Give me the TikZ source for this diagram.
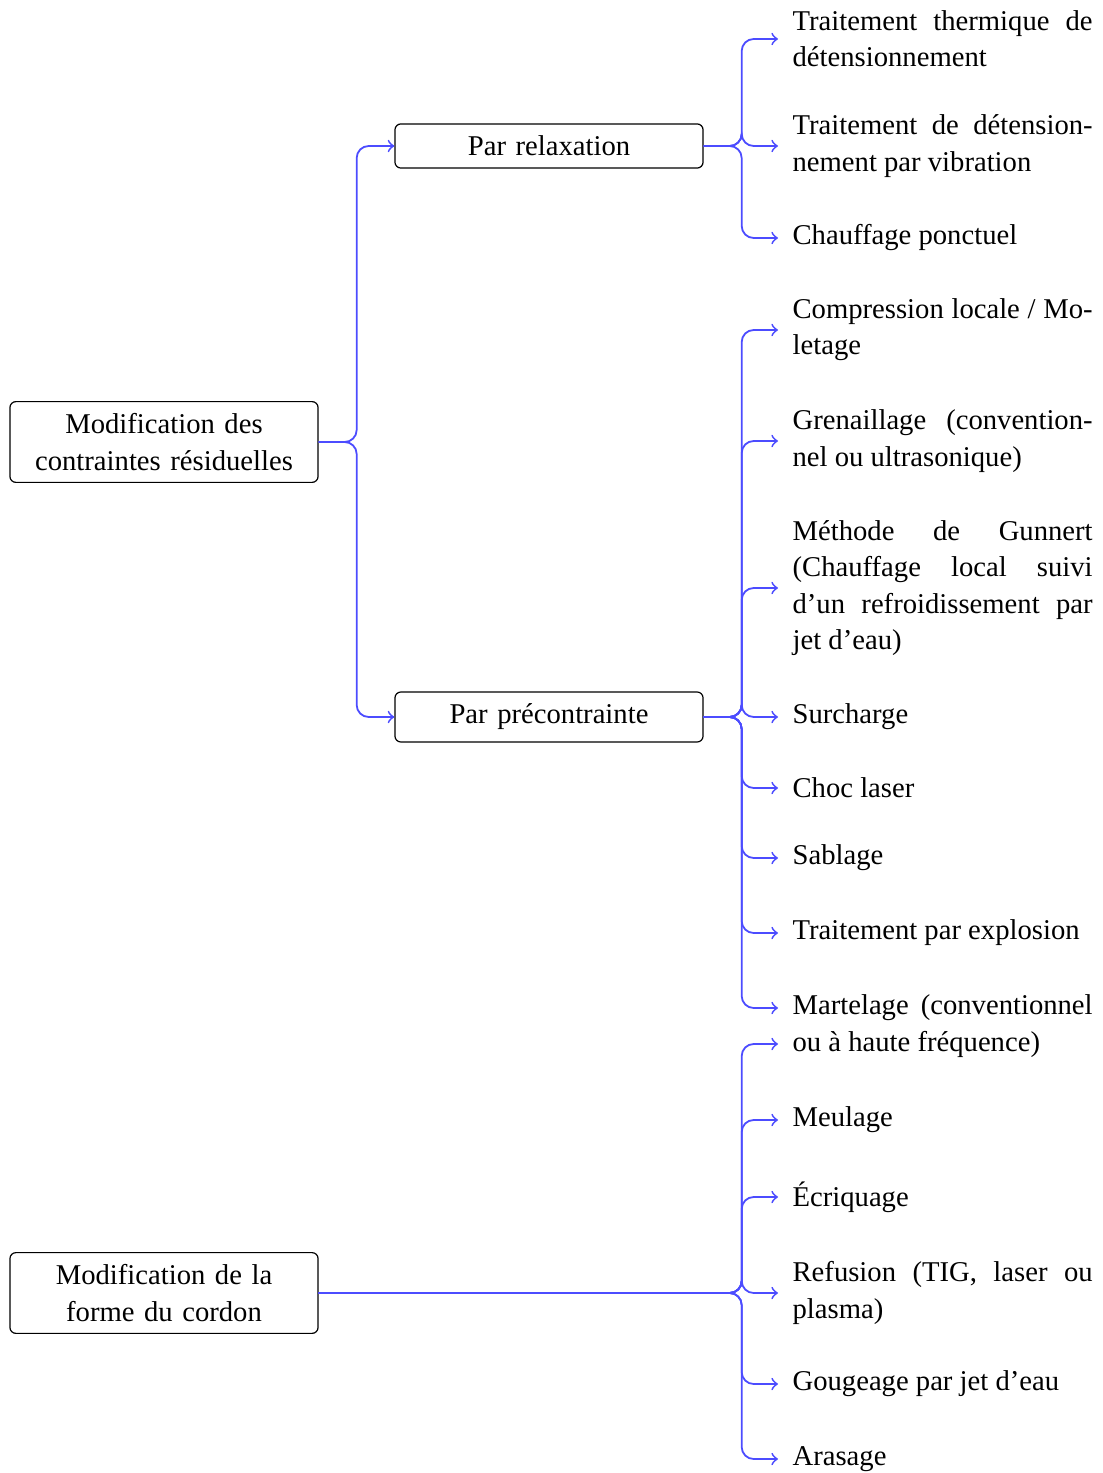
\documentclass[tikz,border=0pt]{standalone}
\usepackage{fontspec}
\setmainfont{Liberation Serif}
\hyphenpenalty=10000
\begin{document}
\begin{tikzpicture}[
	x=0.3333pt,
	y=-0.3333pt,
	font=\fontsize{9.55pt}{12.1pt}\selectfont,
	category/.style={
		rectangle,
		draw=black,
		rounded corners=2pt,
		align=center,
		text width=94.7pt,
		inner sep=4pt
	},
	method/.style={
		anchor=west,
		align=justify,
		text width=100pt,
		inner sep=4.67pt
	},
	branch/.style={
		draw=blue!70,
		semithick,
		rounded corners=4pt,
		->
	},
]
\useasboundingbox (0, 0) rectangle (1102, 1473);

\node[category] (contraintes) at (164, 442) {Modification des \\ contraintes résiduelles};
\node[category] (forme) at (164, 1293) {Modification de la \\ forme du cordon};

\node[category] (relaxation) at (549, 146) {Par relaxation};
\node[category] (precontrainte) at (549, 717) {Par précontrainte};

\node[method] (thermique) at (778, 39) {Traitement thermique de\linebreak détensionnement};
\node[method] (vibration) at (778, 146) {Traitement de détension-\linebreak nement par vibration};
\node[method] (chauffage) at (778, 238) {Chauffage ponctuel};

\node[method] (compression) at (778, 330) {Compression locale / Mo-\linebreak letage};
\node[method] (grenaillage) at (778, 441) {Grenaillage (convention-\linebreak nel ou ultrasonique)};
\node[method] (gunnert) at (778, 588) {Méthode de Gunnert\linebreak (Chauffage local suivi\linebreak d’un refroidissement par\linebreak jet d’eau)};
\node[method] (surcharge) at (778, 717) {Surcharge};
\node[method] (choc) at (778, 788) {Choc laser};
\node[method] (sablage) at (778, 858) {Sablage};
\node[method] (explosion) at (778, 933) {Traitement par explosion};
\node[method] (martelage) at (778, 1026) {Martelage (conventionnel\linebreak ou à haute fréquence)};

\node[method] (meulage) at (778, 1120) {Meulage};
\node[method] (ecriquage) at (778, 1197) {Écriquage};
\node[method] (refusion) at (778, 1293) {Refusion (TIG, laser ou\linebreak plasma)};
\node[method] (gougeage) at (778, 1384) {Gougeage par jet d’eau};
\node[method] (arasage) at (778, 1459) {Arasage};

\foreach \child in {relaxation, precontrainte}
	\draw[branch] (contraintes.east) -- ++(38, 0) |- (\child.west);

\foreach \child in {thermique, vibration, chauffage}
	\draw[branch] (relaxation.east) -- ++(38, 0) |- (\child.west);

\foreach \child in {compression, grenaillage, gunnert, surcharge, choc, sablage, explosion}
	\draw[branch] (precontrainte.east) -- ++(38, 0) |- (\child.west);
\draw[branch] (precontrainte.east) -- ++(38, 0) |- ([yshift=6pt]martelage.west);

\draw[branch] (forme.east) -- ++(423, 0) |- ([yshift=-6pt]martelage.west);
\foreach \child in {meulage, ecriquage, refusion, gougeage, arasage}
	\draw[branch] (forme.east) -- ++(423, 0) |- (\child.west);

\end{tikzpicture}
\end{document}
